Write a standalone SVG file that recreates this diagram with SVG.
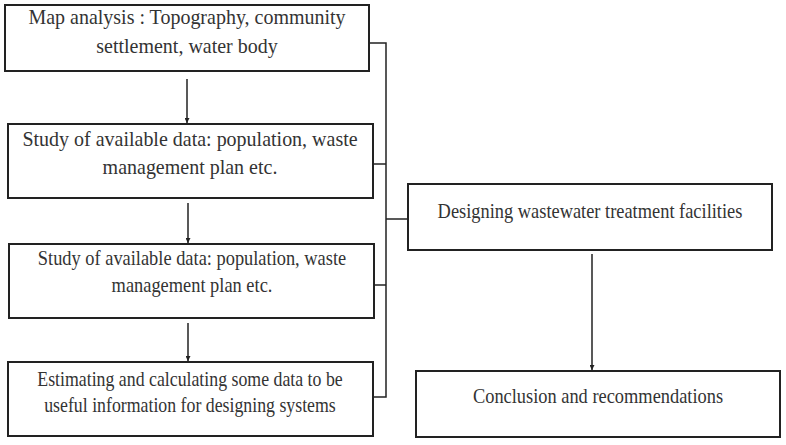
<svg xmlns="http://www.w3.org/2000/svg" width="786" height="445" viewBox="0 0 786 445">
<style>
.box{fill:#fff;stroke:#222;stroke-width:2}
.t{font-family:"Liberation Serif","Times New Roman",serif;font-size:20px;fill:#333;text-anchor:middle}
.s18{font-size:18.4px}
.s17{font-size:17.8px}
.c{fill:none;stroke:#222;stroke-width:1.5}
</style>
<defs>
<marker id="ah" viewBox="0 0 10 10" refX="10" refY="5" markerWidth="5" markerHeight="5" orient="auto" markerUnits="userSpaceOnUse">
<path d="M0,0 L10,5 L0,10 z" fill="#222"/>
</marker>
</defs>
<rect width="786" height="445" fill="#fff"/>
<g id="connectors">
<path class="c" d="M369,43 H386 V397 H373"/>
<path class="c" d="M373,164 H386"/>
<path class="c" d="M374,285 H386"/>
<path class="c" d="M386,219 H408"/>
<line class="c" x1="187" y1="79" x2="187" y2="123" marker-end="url(#ah)"/>
<line class="c" x1="188" y1="203" x2="188" y2="243" marker-end="url(#ah)"/>
<line class="c" x1="188" y1="323" x2="188" y2="361" marker-end="url(#ah)"/>
<line class="c" x1="592" y1="254" x2="592" y2="370" marker-end="url(#ah)"/>
</g>
<g id="n1">
<rect class="box" x="5" y="5" width="364" height="66"/>
<text class="t" transform="translate(187,24) scale(1,1.06)">Map analysis : Topography, community</text>
<text class="t" transform="translate(187,53) scale(1,1.06)">settlement, water body</text>
</g>
<g id="n2">
<rect class="box" x="8" y="124" width="365" height="74"/>
<text class="t" transform="translate(190,146) scale(1,1.06)">Study of available data: population, waste</text>
<text class="t" transform="translate(190,174) scale(1,1.06)">management plan etc.</text>
</g>
<g id="n3">
<rect class="box" x="9" y="244" width="365" height="74"/>
<text class="t s18" transform="translate(192,265) scale(1,1.12)">Study of available data: population, waste</text>
<text class="t s18" transform="translate(192,292) scale(1,1.12)">management plan etc.</text>
</g>
<g id="n4">
<rect class="box" x="8" y="362" width="365" height="74"/>
<text class="t s17" transform="translate(190,385.5) scale(1,1.13)">Estimating and calculating some data to be</text>
<text class="t s17" transform="translate(190,411.5) scale(1,1.13)">useful information for designing systems</text>
</g>
<g id="n5">
<rect class="box" x="408" y="184" width="364" height="66"/>
<text class="t s18" transform="translate(590,217.5) scale(1,1.15)">Designing wastewater treatment facilities</text>
</g>
<g id="n6">
<rect class="box" x="416" y="371" width="364" height="66"/>
<text class="t s18" transform="translate(598,403) scale(1,1.12)">Conclusion and recommendations</text>
</g>
</svg>
